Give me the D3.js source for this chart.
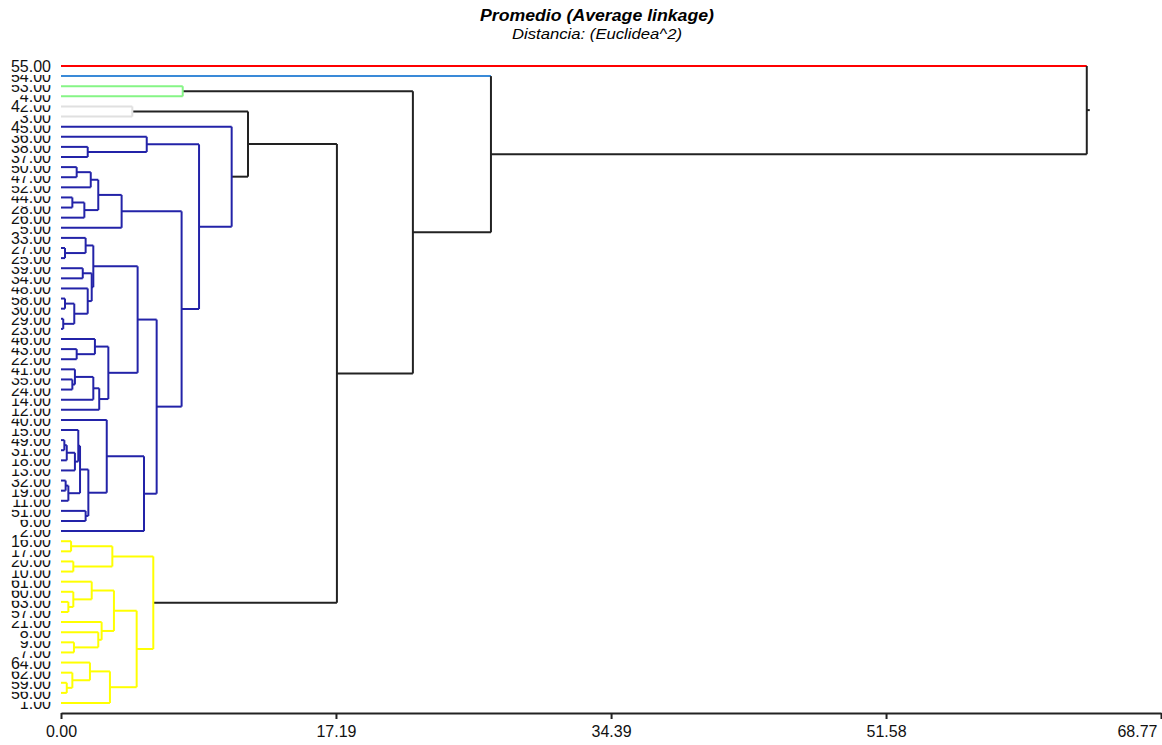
<!DOCTYPE html>
<html lang="es">
<head>
<meta charset="UTF-8">
<title>Promedio (Average linkage)</title>
<script src="https://cdn.jsdelivr.net/npm/d3@7.8.5/dist/d3.min.js"></script>
<style>
  body { margin: 0; background: #fff; }
  svg { display: block; font-family: "Liberation Sans", Arial, sans-serif; }
</style>
</head>
<body>
<div id="chart"></div>
<script>
const width = 1162
const height = 745

// hojas en el orden del dendrograma (de arriba a abajo)
const leafIds = [55, 54, 53, 4, 42, 3, 45, 36, 38, 37, 50, 47, 52, 44, 28, 26, 5, 33, 27, 25,
  39, 34, 48, 58, 30, 29, 23, 46, 43, 22, 41, 35, 24, 14, 12, 40, 15, 49, 31, 18, 13, 32, 19, 11,
  51, 6, 2, 16, 17, 20, 10, 61, 60, 63, 57, 21, 8, 9, 7, 64, 62, 59, 56, 1]

// uniones: [nodo, hijo a, hijo b, distancia]
const merges = [
  ['n1', 38, 37, 1.67], ['n2', 36, 'n1', 5.36], ['n3', 50, 47, 0.98], ['n4', 'n3', 52, 1.86],
  ['n5', 44, 28, 0.71], ['n6', 'n5', 26, 1.46], ['n7', 'n4', 'n6', 2.33], ['n8', 'n7', 5, 3.79],
  ['n9', 27, 25, 0.25], ['n10', 33, 'n9', 1.54], ['n11', 39, 34, 1.36], ['n12', 58, 30, 0.25],
  ['n13', 29, 23, 0.14], ['n14', 'n12', 'n13', 0.83], ['n15', 48, 'n14', 1.67], ['n16', 'n11', 'n15', 1.92],
  ['n17', 'n10', 'n16', 2.02], ['n18', 43, 22, 0.98], ['n19', 46, 'n18', 2.12], ['n20', 35, 24, 0.71],
  ['n21', 41, 'n20', 0.87], ['n22', 'n21', 14, 2.02], ['n23', 'n22', 12, 2.39], ['n24', 'n19', 'n23', 2.96],
  ['n25', 'n17', 'n24', 4.79], ['n26', 49, 31, 0.21], ['n27', 'n26', 18, 0.36], ['n28', 'n27', 13, 0.87],
  ['n29', 15, 'n28', 1.08], ['n30', 32, 19, 0.29], ['n31', 'n30', 11, 0.46], ['n32', 'n29', 'n31', 1.19],
  ['n33', 51, 6, 1.54], ['n34', 'n32', 'n33', 1.71], ['n35', 40, 'n34', 2.86], ['n36', 'n35', 2, 5.19],
  ['n37', 'n25', 'n36', 5.98], ['n38', 'n8', 'n37', 7.54], ['n39', 'n2', 'n38', 8.63], ['n40', 45, 'n39', 10.67],
  ['n41', 42, 3, 4.46], ['n42', 'n41', 'n40', 11.69], ['n43', 53, 4, 7.61],
  ['n44', 16, 17, 0.63], ['n45', 20, 10, 0.77], ['n46', 'n44', 'n45', 3.21], ['n47', 63, 57, 0.46],
  ['n48', 60, 'n47', 0.77], ['n49', 61, 'n48', 1.92], ['n50', 9, 7, 0.81], ['n51', 8, 'n50', 2.33],
  ['n52', 21, 'n51', 2.54], ['n53', 'n49', 'n52', 3.31], ['n54', 59, 56, 0.36], ['n55', 62, 'n54', 0.71],
  ['n56', 64, 'n55', 1.81], ['n57', 'n56', 1, 3.06], ['n58', 'n53', 'n57', 4.73], ['n59', 'n46', 'n58', 5.77],
  ['n60', 'n42', 'n59', 17.25], ['n61', 'n43', 'n60', 22.0], ['n62', 54, 'n61', 26.88], ['n63', 55, 'n62', 64.13]
]

// grupos (raiz del grupo) y sus colores
const clusterRoots = [55, 54, 'n43', 'n41', 'n40', 'n59']
const clusterColors = ['#ff0000', '#3a8ad8', '#86f586', '#e0e0e0', '#2323a8', '#ffff00']

const xTicks = [0, 17.19, 34.39, 51.58, 68.77]

// armar el arbol
const byId = new Map()
leafIds.forEach(id => byId.set(id, { id: id, height: 0 }))
merges.forEach(([id, a, b, h]) => byId.set(id, { id: id, height: h, children: [byId.get(a), byId.get(b)] }))
const root = d3.hierarchy(byId.get('n63'))

const x = d3.scaleLinear().domain([0, 68.77]).range([61, 1161])
const y = d3.scalePoint().domain(leafIds).range([66, 703])

root.eachAfter(n => {
  n.px = x(n.data.height)
  n.py = n.children ? d3.mean(n.children, c => c.py) : y(n.data.id)
})
root.each(n => {
  const k = clusterRoots.indexOf(n.data.id)
  if (k >= 0) n.descendants().forEach(d => { d.color = clusterColors[k] })
})

const svg = d3.select('#chart').append('svg')
  .attr('width', width)
  .attr('height', height)

svg.append('text')
  .attr('x', 597).attr('y', 21)
  .attr('text-anchor', 'middle')
  .attr('font-size', 16).attr('font-weight', 'bold').attr('font-style', 'italic')
  .attr('textLength', 234).attr('lengthAdjust', 'spacingAndGlyphs')
  .text('Promedio (Average linkage)')

svg.append('text')
  .attr('x', 597).attr('y', 39)
  .attr('text-anchor', 'middle')
  .attr('font-size', 14).attr('font-style', 'italic')
  .attr('textLength', 170).attr('lengthAdjust', 'spacingAndGlyphs')
  .text('Distancia: (Euclidea^2)')

const links = svg.append('g').attr('fill', 'none').attr('stroke-width', 2)

// segmentos horizontales hijo -> padre
root.descendants().filter(n => n.parent).forEach(n => {
  const c = n.parent.color || (n.children ? '#222' : n.color)
  links.append('line')
    .attr('x1', n.px).attr('x2', n.parent.px)
    .attr('y1', n.py).attr('y2', n.py)
    .attr('stroke', c)
})
// segmentos verticales de cada union
root.descendants().filter(n => n.children).forEach(n => {
  links.append('line')
    .attr('x1', n.px).attr('x2', n.px)
    .attr('y1', n.children[0].py).attr('y2', n.children[1].py)
    .attr('stroke', n.color || '#222')
})
links.append('line')
  .attr('x1', root.px).attr('x2', root.px + 3)
  .attr('y1', root.py).attr('y2', root.py)
  .attr('stroke', '#222')

// etiquetas de las hojas, de abajo hacia arriba con fondo blanco
const fmt = d3.format('.2f')
const labels = svg.append('g').attr('font-size', 16)
leafIds.slice().reverse().forEach(id => {
  const g = labels.append('g')
  const t = g.append('text')
    .attr('x', 51).attr('y', y(id) + 6)
    .attr('text-anchor', 'end')
    .attr('fill', '#111')
    .text(fmt(id))
  const b = t.node().getBBox()
  g.insert('rect', 'text')
    .attr('x', b.x - 1).attr('y', b.y + 1)
    .attr('width', b.width + 2).attr('height', b.height - 1)
    .attr('fill', '#fff')
})

// eje de distancias
const axis = svg.append('g')
  .attr('transform', 'translate(0,713)')
  .call(d3.axisBottom(x).tickValues(xTicks).tickFormat(fmt).tickSize(6).tickSizeOuter(0))
axis.select('.domain').attr('stroke', '#222').attr('stroke-width', 2)
axis.selectAll('.tick line').attr('stroke', '#222').attr('stroke-width', 2)
axis.selectAll('.tick text')
  .attr('font-size', 16).attr('font-family', '"Liberation Sans", Arial, sans-serif')
  .attr('fill', '#111').attr('dy', '0.95em')
axis.selectAll('.tick').filter(d => d === 68.77).select('text')
  .attr('text-anchor', 'end').attr('dx', -4)
</script>
</body>
</html>
